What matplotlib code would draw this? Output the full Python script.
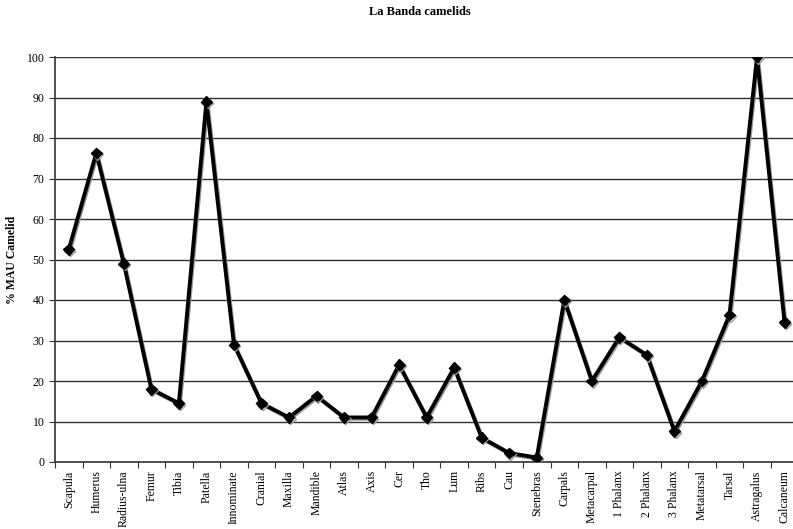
import matplotlib
matplotlib.use("Agg")
import matplotlib.pyplot as plt
import matplotlib.patheffects as pe
from matplotlib.ticker import FixedLocator, NullFormatter

elements = ["Scapula", "Humerus", "Radius-ulna", "Femur", "Tibia", "Patella",
            "Innominate", "Cranial", "Maxilla", "Mandible", "Atlas", "Axis",
            "Cer", "Tho", "Lum", "Ribs", "Cau", "Stenebras", "Carpals",
            "Metacarpal", "1 Phalanx", "2 Phalanx", "3 Phalanx", "Metatarsal",
            "Tarsal", "Astragalus", "Calcaneum"]
mau = [52.5, 76.3, 49.0, 18.0, 14.5, 89.0, 29.0, 14.5, 11.0, 16.3, 11.0, 11.0,
       24.0, 11.0, 23.3, 6.0, 2.2, 1.1, 40.0, 20.0, 30.8, 26.4, 7.6, 20.0,
       36.3, 100.0, 34.5]
y_ticks = list(range(0, 101, 10))

plt.rcParams["font.family"] = ["Liberation Serif", "DejaVu Serif"]

W, H = 793, 529
fig = plt.figure(figsize=(W / 100, H / 100), dpi=100)
left, right, top, bottom = 55, 798.3, 57, 462
ax = fig.add_axes([left / W, 1 - bottom / H, (right - left) / W, (bottom - top) / H])

x = list(range(len(elements)))
ax.plot(x, mau, color="black", lw=2.8, marker="D", ms=5.5,
        markerfacecolor="black", markeredgecolor="black", zorder=3,
        path_effects=[pe.SimpleLineShadow(offset=(0.8, -1.0), shadow_color="#9a9a9a", alpha=1.0),
                      pe.Normal()])

ax.set_xlim(-0.5, len(elements) - 0.5)
ax.set_ylim(0, 100)
ax.set_yticks(y_ticks)
ax.yaxis.grid(True, color="#303030", lw=1.0)
ax.set_axisbelow(True)

ax.xaxis.set_major_locator(FixedLocator([i - 0.5 for i in range(len(elements) + 1)]))
ax.xaxis.set_major_formatter(NullFormatter())
ax.xaxis.set_minor_locator(FixedLocator(x))
ax.set_xticklabels(elements, minor=True, rotation=90, fontsize=8.5)
ax.tick_params(axis="x", which="major", length=4, direction="out", color="#333333")
ax.tick_params(axis="x", which="minor", length=0, pad=6)
ax.tick_params(axis="y", length=4, direction="out", labelsize=8.5, color="#333333")

for s in ("top", "right"):
    ax.spines[s].set_visible(False)
for s in ("left", "bottom"):
    ax.spines[s].set_color("#333333")
    ax.spines[s].set_linewidth(1.2)

ax.set_ylabel("% MAU Camelid", fontsize=8.5, fontweight="bold")
ax.yaxis.set_label_coords((18 - left) / (right - left), 0.5)
fig.text(420 / W, 1 - 12 / H, "La Banda camelids", ha="center", va="center",
         fontsize=9, fontweight="bold")

fig.savefig("out.png", dpi=100)
